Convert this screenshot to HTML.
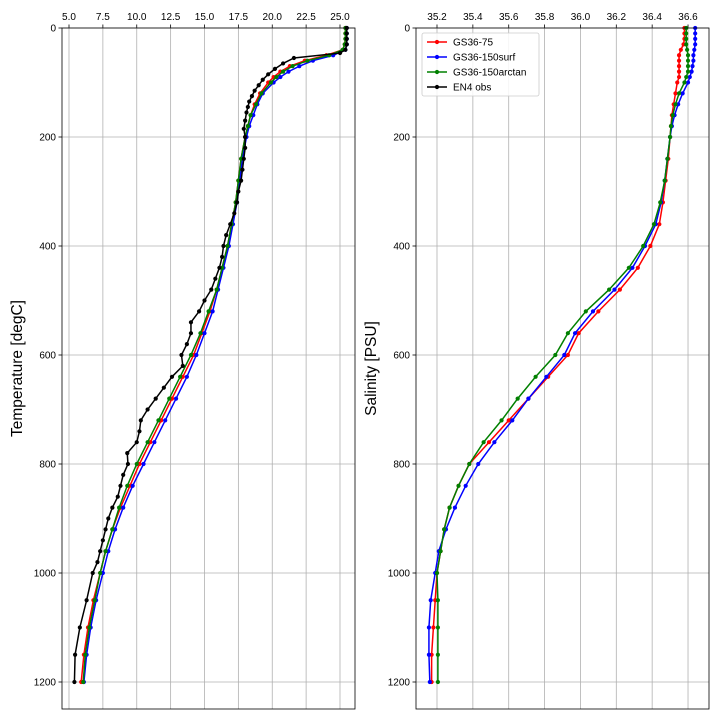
<!DOCTYPE html>
<html><head><meta charset="utf-8"><style>
body{margin:0;background:#fff;font-family:"Liberation Sans",sans-serif}
svg text{font-family:"Liberation Sans",sans-serif}
</style></head><body>
<svg id="c" width="720" height="720" xmlns="http://www.w3.org/2000/svg"></svg>
<script>
const modelDepth=[0,10,20,30,40,50,60,70,80,90,100,120,140,160,180,200,240,280,320,360,400,440,480,520,560,600,640,680,720,760,800,840,880,920,960,1000,1050,1100,1150,1200];
const obsDepth=[0,10,20,30,40,46,55,65,75,85,95,105,115,125,135,145,155,170,185,200,220,240,260,280,300,320,340,360,380,400,420,440,460,480,500,520,540,560,580,600,620,640,660,680,700,720,740,760,780,800,820,840,860,880,900,920,940,960,980,1000,1050,1100,1150,1200];
const tempRed=[25.4,25.4,25.4,25.35,25.2,24.0,22.4,21.3,20.6,20.1,19.7,19.1,18.7,18.4,18.2,18.0,17.7,17.5,17.3,17.0,16.7,16.3,15.9,15.4,14.8,14.2,13.4,12.6,11.8,11.0,10.2,9.5,8.8,8.2,7.7,7.3,6.8,6.4,6.1,5.9];
const tempBlue=[25.5,25.5,25.5,25.5,25.4,24.5,23.0,22.0,21.2,20.6,20.1,19.3,18.9,18.6,18.3,18.1,17.8,17.6,17.4,17.1,16.8,16.4,16.0,15.6,15.0,14.4,13.7,12.9,12.1,11.3,10.5,9.7,9.0,8.4,7.9,7.5,7.0,6.6,6.3,6.1];
const tempGreen=[25.4,25.4,25.4,25.35,25.2,24.2,22.6,21.5,20.8,20.3,19.9,19.2,18.8,18.4,18.2,18.0,17.7,17.5,17.3,17.0,16.7,16.3,15.9,15.3,14.7,14.0,13.2,12.4,11.6,10.8,10.0,9.3,8.7,8.2,7.7,7.3,6.9,6.5,6.2,6.05];
const tempObs=[25.5,25.5,25.5,25.5,25.4,25.0,21.6,20.8,20.2,19.7,19.3,19.0,18.7,18.5,18.3,18.2,18.1,18.0,17.9,18.0,18.0,17.9,17.8,17.7,17.5,17.4,17.2,16.9,16.6,16.4,16.3,16.1,15.8,15.5,15.0,14.6,14.0,14.0,13.7,13.3,13.4,12.6,12.0,11.4,10.8,10.3,10.2,10.0,9.3,9.35,9.0,8.8,8.6,8.2,7.9,7.7,7.5,7.3,7.1,6.75,6.3,5.8,5.45,5.4];
const salRed=[36.58,36.58,36.58,36.575,36.56,36.55,36.55,36.55,36.55,36.55,36.54,36.53,36.52,36.51,36.505,36.50,36.49,36.475,36.46,36.44,36.39,36.32,36.22,36.10,35.99,35.93,35.82,35.71,35.60,35.49,35.38,35.32,35.27,35.24,35.22,35.20,35.19,35.18,35.17,35.17];
const salBlue=[36.64,36.64,36.64,36.64,36.635,36.63,36.63,36.625,36.62,36.61,36.60,36.57,36.545,36.525,36.51,36.50,36.485,36.47,36.45,36.42,36.36,36.29,36.19,36.07,35.97,35.91,35.81,35.71,35.62,35.52,35.43,35.36,35.30,35.25,35.21,35.19,35.165,35.155,35.155,35.16];
const salGreen=[36.59,36.59,36.59,36.59,36.595,36.60,36.60,36.60,36.60,36.59,36.58,36.55,36.53,36.515,36.505,36.50,36.485,36.47,36.445,36.41,36.35,36.27,36.16,36.03,35.93,35.86,35.75,35.65,35.56,35.46,35.38,35.32,35.27,35.24,35.22,35.20,35.205,35.205,35.205,35.205];
const tempTicks=[5,7.5,10,12.5,15,17.5,20,22.5,25];
const salTicks=[35.2,35.4,35.6,35.8,36.0,36.2,36.4,36.6];
const depthTicks=[0,200,400,600,800,1000,1200];
const legendLabels=["GS36-75","GS36-150surf","GS36-150arctan","EN4 obs"];

const NS="http://www.w3.org/2000/svg";
const svg=document.getElementById('c');
function mk(tag,attrs,parent){const e=document.createElementNS(NS,tag);for(const k in attrs)e.setAttribute(k,attrs[k]);(parent||svg).appendChild(e);return e;}
const yScale=d=>28+d*0.545;
const yTop=28,yBot=709;
const xT=t=>69+(t-5)*13.55;
const xS=s=>437+(s-35.2)*179.3;

function panel(name,x0,x1,xf,ticks,fmt,series,label,labelX){
  const g=mk('g',{});
  
  
  ticks.forEach(t=>{const gl=mk('line',{x1:xf(t),x2:xf(t),y1:yTop,y2:yBot,stroke:'#b0b0b0','stroke-width':0.8},g);
    
    
    mk('line',{x1:xf(t),x2:xf(t),y1:yTop,y2:yTop-3.5,stroke:'#000','stroke-width':0.8},g);
    const tx=mk('text',{x:xf(t),y:yTop-8,'font-size':10,'text-anchor':'middle'},g);tx.textContent=fmt(t);
    
    });
  depthTicks.forEach(d=>{const gl=mk('line',{x1:x0,x2:x1,y1:yScale(d),y2:yScale(d),stroke:'#b0b0b0','stroke-width':0.8},g);
    
    
    mk('line',{x1:x0,x2:x0-3.5,y1:yScale(d),y2:yScale(d),stroke:'#000','stroke-width':0.8},g);
    const tx=mk('text',{x:x0-6,y:yScale(d)+3.5,'font-size':10,'text-anchor':'end'},g);tx.textContent=d;
    
    });
  series.forEach(s=>{
    const pts=s.vals.map((v,i)=>[xf(v),yScale(s.dep[i])]);
    const pl=mk('polyline',{points:pts.map(p=>p.join(',')).join(' '),fill:'none',stroke:s.c,'stroke-width':1.5},g);
    
    
    pts.forEach(p=>{const c=mk('circle',{cx:p[0],cy:p[1],r:2.1,fill:s.c},g);
      
      });
  });
  const fr=mk('rect',{x:x0,y:yTop,width:x1-x0,height:yBot-yTop,fill:'none',stroke:'#000','stroke-width':0.8},g);
  
  
  const cy=(yTop+yBot)/2;
  const lb=mk('text',{x:labelX,y:cy,'font-size':15.5,'text-anchor':'middle',transform:'rotate(-90 '+labelX+' '+cy+')'},g);
  lb.textContent=label;
  
  
}
panel('temperature',62,355,xT,tempTicks,t=>t.toFixed(1),[
 {vals:tempRed,dep:modelDepth,c:'#ff0000',n:'gs36-75-temp'},
 {vals:tempBlue,dep:modelDepth,c:'#0000ff',n:'gs36-150surf-temp'},
 {vals:tempGreen,dep:modelDepth,c:'#008000',n:'gs36-150arctan-temp'},
 {vals:tempObs,dep:obsDepth,c:'#000000',n:'en4-obs-temp'}],'Temperature [degC]',22);
panel('salinity',416,709,xS,salTicks,t=>t.toFixed(1),[
 {vals:salRed,dep:modelDepth,c:'#ff0000',n:'gs36-75-sal'},
 {vals:salBlue,dep:modelDepth,c:'#0000ff',n:'gs36-150surf-sal'},
 {vals:salGreen,dep:modelDepth,c:'#008000',n:'gs36-150arctan-sal'}],'Salinity [PSU]',376);

const lg=mk('g',{});


mk('rect',{x:422,y:33,width:117,height:63,rx:2,fill:'#fff','fill-opacity':0.85,stroke:'#ccc','stroke-width':0.8},lg);
const lc=['#ff0000','#0000ff','#008000','#000000'];
legendLabels.forEach((t,i)=>{const yy=42+i*15;
  const e=mk('g',{},lg);
  
  
  mk('line',{x1:427,x2:447,y1:yy,y2:yy,stroke:lc[i],'stroke-width':1.5},e);
  mk('circle',{cx:437,cy:yy,r:2.1,fill:lc[i]},e);
  const tx=mk('text',{x:453,y:yy+3.5,'font-size':10},e);tx.textContent=t;});
</script>
</body></html>
